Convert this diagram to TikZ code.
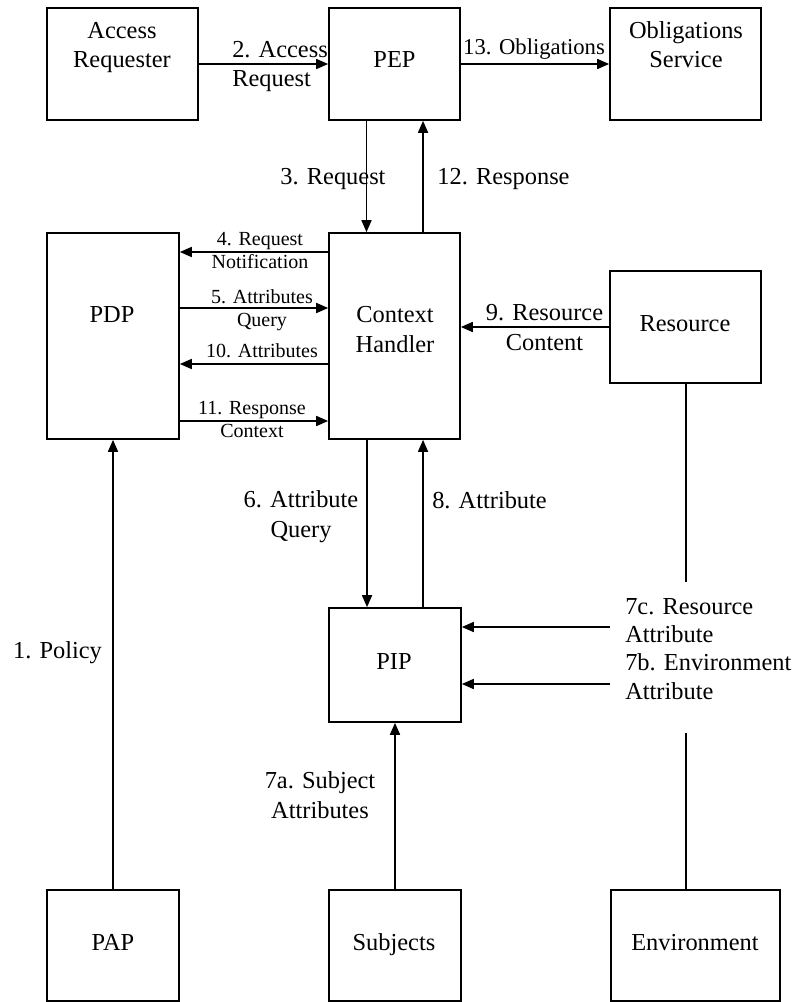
\documentclass[tikz,border=0pt]{standalone}
\usepackage{fontspec}
\setmainfont{Liberation Serif}
\usetikzlibrary{arrows.meta}
\begin{document}
\begin{tikzpicture}[x=0.75pt,y=-0.75pt,
  box/.style={draw, line width=1.25pt, rectangle, inner sep=0pt},
  txt/.style={inner sep=0pt, font=\fontsize{18.3}{22}\selectfont, anchor=base, align=center},
  lbl/.style={inner sep=0pt, font=\fontsize{18.3}{22}\selectfont, anchor=base, align=center},
  small/.style={inner sep=0pt, font=\fontsize{15}{16.9}\selectfont, anchor=base, align=center},
  arr/.style={line width=1.25pt, -{Triangle[length=9pt,width=7.5pt]}},
  ln/.style={line width=1.25pt}]
\useasboundingbox (0,0) rectangle (795,1002);
% boxes
\node[box, minimum width=113.25pt, minimum height=84pt] (ar) at (122.5,64) {};
\node[box, minimum width=98.25pt, minimum height=84pt] (pep) at (394.5,64) {};
\node[box, minimum width=113.25pt, minimum height=84pt] (obl) at (685.5,64) {};
\node[box, minimum width=99pt, minimum height=154.5pt] (pdp) at (113,336) {};
\node[box, minimum width=98.25pt, minimum height=154.5pt] (ch) at (394.5,336) {};
\node[box, minimum width=113.25pt, minimum height=84pt] (res) at (685.5,327) {};
\node[box, minimum width=99pt, minimum height=85.5pt] (pip) at (395,665) {};
\node[box, minimum width=99pt, minimum height=83.25pt] (pap) at (113,945.5) {};
\node[box, minimum width=99pt, minimum height=83.25pt] (subj) at (395,945.5) {};
\node[box, minimum width=126.75pt, minimum height=83.25pt] (env) at (695.5,945.5) {};
% box texts (base = last line)
\node[txt] (tar) at (122,68) {Access\\Requester};
\node[txt] (tpep) at (394.5,68) {PEP};
\node[txt] (tobl) at (686,68) {Obligations\\Service};
\node[txt] (tpdp) at (112,322) {PDP};
\node[txt] (tch) at (395,352) {Context\\Handler};
\node[txt] (tres) at (685,331) {Resource};
\node[txt] (tpip) at (394,669) {PIP};
\node[txt] (tpap) at (113,950) {PAP};
\node[txt] (tsubj) at (394,950) {Subjects};
\node[txt] (tenv) at (695,950) {Environment};
% connectors
\draw[arr] (ar.east) -- (pep.west);
\draw[arr] (pep.east) -- (obl.west);
\draw[arr] ([xshift=-21pt]pep.south) -- ([xshift=-21pt]ch.north);
\draw[arr] ([xshift=21.4pt]ch.north) -- ([xshift=21.4pt]pep.south);
\draw[arr] ([yshift=63pt]ch.west) -- ([yshift=63pt]pdp.east);
\draw[arr] ([yshift=21pt]pdp.east) -- ([yshift=21pt]ch.west);
\draw[arr] ([yshift=-21pt]ch.west) -- ([yshift=-21pt]pdp.east);
\draw[arr] ([yshift=-63.75pt]pdp.east) -- ([yshift=-63.75pt]ch.west);
\draw[arr] (res.west) -- (res.west -| ch.east);
\draw[arr] ([xshift=-20.6pt]ch.south) -- ([xshift=-20.6pt]ch.south |- pip.north);
\draw[arr] ([xshift=21.4pt]ch.south |- pip.north) -- ([xshift=21.4pt]ch.south);
\draw[arr] (pap.north) -- (pdp.south);
\draw[arr] (subj.north) -- (pip.south);
\coordinate (c7c) at (610,627);
\coordinate (c7b) at (610,684);
\draw[arr] (c7c) -- (c7c -| pip.east);
\draw[arr] (c7b) -- (c7b -| pip.east);
\coordinate (rend) at (686,582);
\coordinate (eend) at (686,733);
\draw[ln] (res.south -| rend) -- (rend);
\draw[ln] (env.north -| eend) -- (eend);
% labels (base = last line)
\node[lbl, anchor=base west, align=left] (l2) at (232,87) {2. Access\\Request};
\node[lbl, font=\fontsize{17}{20}\selectfont] (l13) at (534,55) {13. Obligations};
\node[lbl] (l3) at (333,184) {3. Request};
\node[lbl] (l12) at (503.5,184) {12. Response};
\node[small] (l4) at (260,268) {4. Request\\Notification};
\node[small] (l5) at (262,326) {5. Attributes\\Query};
\node[small] (l10) at (262,357) {10. Attributes};
\node[small] (l11) at (252,437) {11. Response\\Context};
\node[lbl] (l9) at (544.5,350) {9. Resource\\Content};
\node[lbl] (l6) at (301,537) {6. Attribute\\Query};
\node[lbl, anchor=base west] (l8) at (432,508) {8. Attribute};
\node[lbl, anchor=base west, align=left, font=\fontsize{18.3}{21.25}\selectfont] (l7) at (625,699) {7c. Resource\\Attribute\\7b. Environment\\Attribute};
\node[lbl] (l7a) at (320,818) {7a. Subject\\Attributes};
\node[lbl] (l1) at (57.5,658) {1. Policy};
\end{tikzpicture}
\end{document}
